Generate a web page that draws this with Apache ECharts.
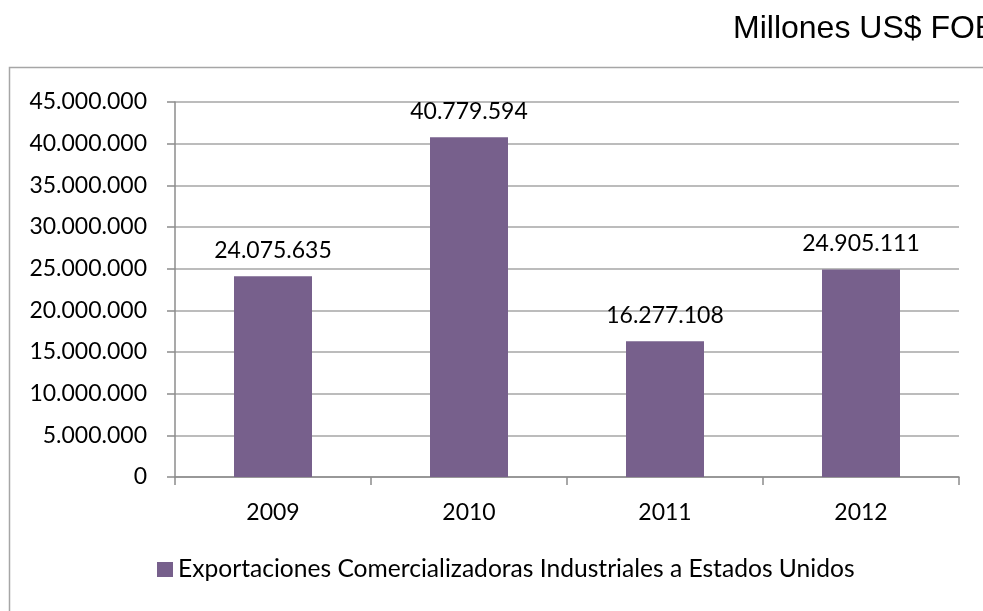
<!DOCTYPE html>
<html>
<head>
<meta charset="utf-8">
<script src="https://cdn.jsdelivr.net/npm/echarts@6/dist/echarts.min.js"></script>
<style>
  html, body { margin: 0; padding: 0; background: #fff; }
  #chart { width: 983px; height: 611px; }
</style>
</head>
<body>
<div id="chart"></div>
<script>
// Exports by industrial trading companies to the United States
const years = ['2009', '2010', '2011', '2012'];
const exportValues = [24075635, 40779594, 16277108, 24905111];
const seriesName = 'Exportaciones Comercializadoras Industriales a Estados Unidos';
const unitNote = 'Millones US$ FOB';

const yMin = 0, yMax = 45000000, yStep = 5000000;

function fmt(v) {
  return String(Math.round(v)).replace(/\B(?=(\d{3})+(?!\d))/g, '.');
}

const FONT = 'Lato';
const chart = echarts.init(document.getElementById('chart'), null, { renderer: 'canvas' });

chart.setOption({
  animation: false,
  backgroundColor: '#ffffff',
  textStyle: { fontFamily: FONT },
  graphic: [
    {
      type: 'rect',
      shape: { x: 9.5, y: 67.5, width: 1000, height: 600 },
      style: { fill: 'none', stroke: '#a6a6a6', lineWidth: 1.5 },
      silent: true
    },
    {
      type: 'text',
      left: 733,
      top: 13,
      style: {
        text: unitNote,
        font: '32px "Liberation Sans", Arial, sans-serif',
        fill: '#000000'
      }
    }
  ],
  grid: { left: 175, right: 24, top: 102, bottom: 134, containLabel: false },
  legend: {
    data: [seriesName],
    left: 157,
    top: 557,
    padding: 0,
    itemWidth: 16,
    itemHeight: 15,
    icon: 'rect',
    textStyle: { fontFamily: FONT, fontSize: 24.6, color: '#000000' }
  },
  xAxis: {
    type: 'category',
    data: years,
    boundaryGap: true,
    axisLine: { show: true, lineStyle: { color: '#8c8c8c', width: 1.5 } },
    axisTick: { show: true, alignWithLabel: false, length: 8, inside: false, lineStyle: { color: '#8c8c8c', width: 1.5 } },
    axisLabel: { color: '#000000', fontFamily: FONT, fontSize: 23, margin: 24 },
    splitLine: { show: false }
  },
  yAxis: {
    type: 'value',
    min: yMin,
    max: yMax,
    interval: yStep,
    axisLine: { show: true, lineStyle: { color: '#8c8c8c', width: 1.5 } },
    axisTick: { show: true, length: 8, inside: false, lineStyle: { color: '#8c8c8c', width: 1.5 } },
    axisLabel: {
      color: '#000000', fontFamily: FONT, fontSize: 23, margin: 28,
      formatter: v => fmt(v)
    },
    splitLine: { show: true, lineStyle: { color: '#a6a6a6', width: 1.5 } }
  },
  series: [
    {
      name: seriesName,
      type: 'bar',
      data: exportValues,
      barWidth: 78,
      itemStyle: { color: '#77608c' },
      label: {
        show: true,
        position: 'top',
        distance: 14,
        color: '#000000',
        fontFamily: FONT,
        fontSize: 23,
        formatter: p => fmt(p.value)
      }
    }
  ]
});
</script>
</body>
</html>
